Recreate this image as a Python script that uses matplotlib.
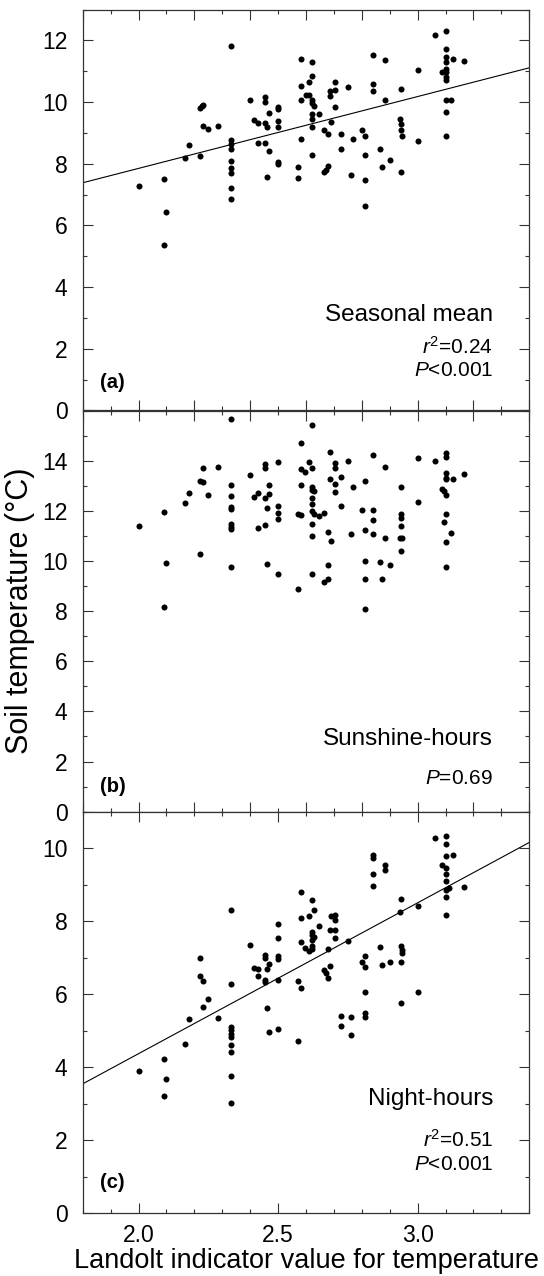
import numpy as np
import matplotlib
matplotlib.use('Agg')
import matplotlib.pyplot as plt
from matplotlib.ticker import MultipleLocator

plt.rcParams['font.family'] = ['Liberation Sans', 'DejaVu Sans']
plt.rcParams['mathtext.fontset'] = 'custom'
plt.rcParams['mathtext.rm'] = 'Liberation Sans'
plt.rcParams['mathtext.it'] = 'Liberation Sans:italic'
plt.rcParams['mathtext.bf'] = 'Liberation Sans:bold'

# --- data ---
# (a) seasonal mean
x_a = [2.0, 2.09, 2.10, 2.09, 2.167, 2.18, 2.22, 2.22, 2.226, 2.232, 2.23, 2.25, 2.286,
       2.333, 2.333, 2.333, 2.333, 2.333, 2.333, 2.333, 2.333, 2.333,
       2.40, 2.415, 2.427, 2.427, 2.453, 2.453, 2.453, 2.453, 2.46, 2.466, 2.466, 2.46,
       2.50, 2.50, 2.50, 2.50, 2.50, 2.50, 2.57, 2.57, 2.582, 2.582, 2.582, 2.582,
       2.60, 2.61, 2.61, 2.62, 2.62, 2.62, 2.62, 2.627, 2.62, 2.62, 2.62, 2.62,
       2.645, 2.665, 2.678, 2.665, 2.678, 2.672, 2.686, 2.686, 2.705, 2.705, 2.705, 2.69,
       2.725, 2.725, 2.75, 2.763, 2.77, 2.80, 2.81, 2.81, 2.81, 2.81,
       2.84, 2.84, 2.84, 2.866, 2.874, 2.883, 2.883, 2.90,
       2.94, 2.937, 2.94, 2.94, 2.943, 2.94, 3.0, 3.0, 3.062, 3.086,
       3.10, 3.10, 3.10, 3.10, 3.10, 3.10, 3.10, 3.10, 3.10, 3.118, 3.10, 3.10, 3.128, 3.166]
y_a = [7.28, 7.49, 6.45, 5.38, 8.18, 8.61, 8.26, 9.80, 9.87, 9.92, 9.22, 9.12, 9.23,
       11.81, 8.77, 8.64, 8.48, 8.10, 7.87, 7.69, 7.21, 6.86,
       10.06, 9.42, 9.31, 8.66, 10.17, 9.99, 9.31, 8.66, 9.20, 9.65, 8.41, 7.56,
       9.83, 9.76, 9.39, 9.20, 8.07, 7.98, 7.88, 7.53, 11.40, 10.52, 10.06, 8.81,
       10.22, 10.66, 10.24, 11.31, 10.86, 10.06, 9.96, 9.87, 9.61, 9.46, 9.20, 8.28,
       9.61, 9.09, 8.95, 7.74, 7.94, 7.80, 10.19, 10.37, 10.65, 10.39, 9.85, 9.36,
       8.98, 8.49, 10.48, 7.63, 8.80, 9.11, 8.91, 8.28, 7.47, 6.64,
       11.54, 10.58, 10.37, 8.48, 7.90, 11.36, 10.06, 8.12,
       10.44, 9.44, 9.29, 9.09, 8.90, 7.74, 11.03, 8.75, 12.18, 10.98,
       12.31, 11.72, 11.45, 11.29, 11.07, 10.96, 10.80, 10.71, 10.06, 10.06, 9.68, 8.90, 11.40, 11.33]

# (b) sunshine-hours
x_b = [2.0, 2.09, 2.10, 2.09, 2.167, 2.18, 2.22, 2.22, 2.23, 2.23, 2.25, 2.286,
       2.333, 2.333, 2.333, 2.333, 2.333, 2.333, 2.333, 2.333, 2.333,
       2.40, 2.415, 2.427, 2.427, 2.453, 2.453, 2.453, 2.453, 2.46, 2.466, 2.466, 2.46,
       2.50, 2.50, 2.50, 2.50, 2.50, 2.57, 2.57, 2.582, 2.582, 2.582, 2.582, 2.598, 2.61,
       2.62, 2.62, 2.62, 2.62, 2.63, 2.62, 2.62, 2.62, 2.63, 2.645, 2.62, 2.62, 2.62,
       2.665, 2.678, 2.69, 2.678, 2.665, 2.678, 2.686, 2.686, 2.705, 2.705, 2.705, 2.705,
       2.725, 2.725, 2.75, 2.763, 2.77, 2.80, 2.81, 2.81, 2.81, 2.81, 2.81,
       2.84, 2.84, 2.84, 2.84, 2.866, 2.874, 2.883, 2.883, 2.90,
       2.94, 2.94, 2.94, 2.94, 2.937, 2.943, 2.94, 3.0, 3.0, 3.062, 3.086,
       3.10, 3.10, 3.10, 3.10, 3.10, 3.095, 3.10, 3.10, 3.095, 3.118, 3.10, 3.10, 3.128, 3.166]
y_b = [11.42, 11.96, 9.92, 8.15, 12.31, 12.72, 10.29, 13.20, 13.16, 13.72, 12.64, 13.75,
       15.69, 13.04, 12.61, 12.17, 12.07, 11.49, 11.37, 11.27, 9.77,
       13.45, 12.57, 12.73, 11.33, 13.89, 13.71, 12.52, 11.43, 12.12, 12.67, 13.04, 9.87,
       13.96, 12.20, 11.93, 11.67, 9.47, 11.87, 8.88, 14.71, 13.68, 13.04, 11.82, 13.57, 13.96,
       15.43, 13.71, 12.96, 12.83, 12.80, 12.53, 12.27, 12.00, 11.87, 11.80, 11.47, 11.00, 9.47,
       11.91, 11.17, 10.81, 9.83, 9.16, 9.27, 14.36, 13.28, 13.91, 13.71, 13.08, 12.76,
       13.35, 12.20, 14.01, 11.10, 12.96, 12.03, 13.21, 11.24, 10.00, 9.27, 8.07,
       14.24, 12.04, 11.64, 11.08, 9.96, 9.27, 13.77, 10.91, 9.85,
       12.97, 11.89, 11.71, 11.41, 10.91, 10.93, 10.41, 14.13, 12.36, 14.00, 12.87,
       14.31, 14.17, 13.53, 13.33, 13.27, 12.80, 12.63, 11.87, 11.57, 11.13, 10.75, 9.77, 13.27, 13.49]

# (c) night-hours
x_c = [2.22, 2.22, 2.23, 2.25, 2.333, 2.333, 2.40, 2.415, 2.427, 2.427,
       2.453, 2.453, 2.453, 2.453, 2.46, 2.466, 2.50, 2.50, 2.50, 2.50, 2.50,
       2.57, 2.582, 2.582, 2.582, 2.582, 2.61, 2.598, 2.61, 2.62, 2.63, 2.62, 2.62, 2.62,
       2.63, 2.62, 2.62, 2.645, 2.665, 2.672, 2.678, 2.678, 2.686, 2.69, 2.705, 2.705,
       2.686, 2.705, 2.705, 2.75, 2.80, 2.81, 2.81, 2.81, 2.84, 2.84, 2.84, 2.84,
       2.866, 2.874, 2.90, 2.883, 2.883, 2.94, 2.937, 2.94, 2.943, 2.943, 2.94,
       3.0, 3.0, 3.062, 3.086, 3.10, 3.10, 3.10, 3.10, 3.10, 3.10, 3.102, 3.112,
       3.10, 3.10, 3.128, 3.166,
       2.0, 2.09, 2.10, 2.09, 2.167, 2.18, 2.23, 2.286,
       2.333, 2.333, 2.333, 2.333, 2.333, 2.333, 2.333, 2.333,
       2.46, 2.466, 2.50, 2.57, 2.725, 2.725, 2.763, 2.763, 2.81, 2.81, 2.94]
y_c = [6.99, 6.49, 6.36, 5.88, 8.30, 6.29, 7.34, 6.72, 6.68, 6.49,
       7.07, 7.00, 6.40, 6.34, 6.68, 6.84, 7.93, 7.55, 7.04, 6.97, 6.38,
       6.36, 6.17, 8.81, 8.10, 7.43, 8.14, 7.27, 7.18, 8.60, 8.32, 7.70, 7.64, 7.50,
       7.57, 7.32, 7.23, 7.88, 6.66, 6.58, 6.45, 7.23, 6.77, 8.14, 8.17, 8.03,
       7.77, 7.75, 7.55, 7.47, 6.88, 7.04, 6.75, 6.05, 9.81, 9.74, 9.31, 8.97,
       7.30, 6.81, 6.88, 9.54, 9.40, 8.62, 8.26, 7.32, 7.21, 7.12, 6.89,
       8.42, 6.06, 10.29, 9.56, 10.34, 10.11, 9.79, 9.47, 9.31, 9.10, 8.87, 8.92,
       8.66, 8.17, 9.81, 8.95,
       3.90, 4.23, 3.68, 3.20, 4.64, 5.33, 5.65, 5.35,
       5.10, 5.01, 4.92, 4.83, 4.62, 4.43, 3.76, 3.03,
       5.62, 4.96, 5.05, 4.71, 5.41, 5.12, 5.38, 4.89, 5.50, 5.38, 5.76]

# regression lines (intercept, slope)
fit_a = (3.19, 2.33)
fit_c = (-3.91, 4.14)

panel_tags = ['(a)', '(b)', '(c)']
panel_titles = ['Seasonal mean', 'Sunshine-hours', 'Night-hours']
panel_stats = [[r'$r^2$=0.24', r'$P$<0.001'], [r'$P$=0.69'], [r'$r^2$=0.51', r'$P$<0.001']]
y_max = [13, 16, 11]
y_top_tick = [12, 14, 10]

XMIN, XMAX = 1.8, 3.4

fig = plt.figure(figsize=(5.44, 12.76), dpi=100)
left, width = 0.152, 0.821
bottoms = [0.6783, 0.3639, 0.0494]
height = 0.3142
axes = [fig.add_axes([left, b, width, height]) for b in bottoms]

data = [(x_a, y_a, fit_a), (x_b, y_b, None), (x_c, y_c, fit_c)]

# text positions (axes fraction)
title_y = [0.224, 0.166, 0.269]
stat_y = [[0.141, 0.087], [0.069], [0.165, 0.107]]
tag_y = [0.056, 0.050, 0.062]

for i, ax in enumerate(axes):
    xs, ys, fit = data[i]
    ax.scatter(xs, ys, s=19, color='black', linewidths=0, zorder=3)
    if fit is not None:
        xx = np.array([XMIN, XMAX])
        ax.plot(xx, fit[0] + fit[1] * xx, color='black', lw=0.8)
    ax.set_xlim(XMIN, XMAX)
    ax.set_ylim(0, y_max[i])
    ax.set_yticks(np.arange(0, y_top_tick[i] + 1, 2))
    ax.yaxis.set_minor_locator(MultipleLocator(1))
    if i < 2:
        ax.xaxis.set_major_locator(MultipleLocator(0.2))
        ax.xaxis.set_minor_locator(MultipleLocator(0.1))
        ax.tick_params(axis='x', labelbottom=False)
    else:
        ax.set_xticks([2.0, 2.5, 3.0])
        ax.set_xticklabels(['2.0', '2.5', '3.0'])
        ax.xaxis.set_minor_locator(MultipleLocator(0.1))
    ax.tick_params(which='both', direction='in', top=True, right=True,
                   width=0.8, color='#333333', labelsize=16.5)
    ax.tick_params(which='major', length=7)
    ax.tick_params(which='minor', length=3)
    ax.tick_params(axis='y', pad=11)
    ax.tick_params(axis='x', pad=8)
    for sp in ax.spines.values():
        sp.set_linewidth(0.9)
        sp.set_color('#333333')

    ax.text(0.919, title_y[i], panel_titles[i], transform=ax.transAxes,
            ha='right', va='baseline', fontsize=17.5)
    for txt, yy in zip(panel_stats[i], stat_y[i]):
        ax.text(0.919, yy, txt, transform=ax.transAxes, ha='right',
                va='baseline', fontsize=15)
    ax.text(0.039, tag_y[i], panel_tags[i], transform=ax.transAxes,
            ha='left', va='baseline', fontsize=14.5, fontweight='bold')

axes[2].set_xlabel('Landolt indicator value for temperature', fontsize=19.5, labelpad=1)
fig.text(0.036, 0.521, 'Soil temperature (°C)', rotation=90, ha='center',
         va='center', fontsize=22)

fig.savefig('out.png', dpi=100)
